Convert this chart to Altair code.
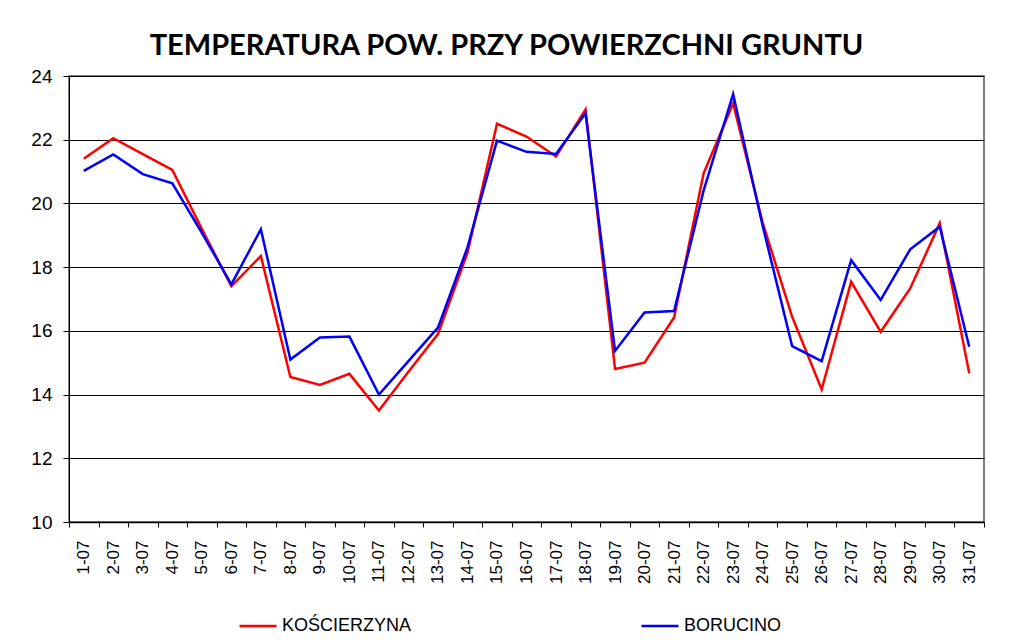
import altair as alt
import pandas as pd

days = [f"{d}-07" for d in range(1, 32)]
koscierzyna = [21.4, 22.05, 21.55, 21.05, 19.2, 17.4, 18.35, 14.55, 14.3, 14.65,
               13.5, 14.72, 15.9, 18.45, 22.5, 22.1, 21.47, 22.95, 14.8, 15.0,
               16.42, 20.94, 23.14, 19.4, 16.44, 14.16, 17.54, 15.97, 17.33, 19.38,
               14.67]
borucino = [21.02, 21.54, 20.92, 20.63, 19.08, 17.46, 19.19, 15.1, 15.79, 15.82,
            14.0, 15.05, 16.1, 18.62, 21.97, 21.62, 21.55, 22.83, 15.37, 16.58,
            16.62, 20.4, 23.43, 19.3, 15.52, 15.05, 18.22, 16.97, 18.56, 19.27,
            15.5]
series_names = ["KOŚCIERZYNA", "BORUCINO"]
series_colors = ["#FF0000", "#0000FF"]
y_ticks = [10, 12, 14, 16, 18, 20, 22, 24]

rows = []
for name, vals in zip(series_names, [koscierzyna, borucino]):
    for d, v in zip(days, vals):
        rows.append({"day": d, "temp": v, "series": name})
df = pd.DataFrame(rows)

chart = (
    alt.Chart(df)
    .mark_line(strokeWidth=2.5)
    .encode(
        x=alt.X(
            "day:N",
            sort=days,
            scale=alt.Scale(type="band", paddingInner=0, paddingOuter=0),
            axis=alt.Axis(
                title=None,
                labelAngle=-90,
                labelFontSize=17,
                labelPadding=13,
                tickBand="extent",
                tickSize=5,
                tickColor="black",
                domainColor="black",
                domainWidth=1.5,
                labelColor="black",
                grid=False,
            ),
        ),
        y=alt.Y(
            "temp:Q",
            scale=alt.Scale(domain=[10, 24], nice=False, zero=False),
            axis=alt.Axis(
                title=None,
                values=y_ticks,
                labelFontSize=19,
                labelPadding=11,
                tickSize=6,
                tickColor="black",
                domainColor="black",
                labelColor="black",
                grid=True,
                gridColor="black",
                gridWidth=1,
                gridOpacity=1,
            ),
        ),
        color=alt.Color(
            "series:N",
            scale=alt.Scale(domain=series_names, range=series_colors),
            legend=alt.Legend(
                title=None,
                orient="none",
                direction="horizontal",
                legendX=169,
                legendY=530,
                symbolType="stroke",
                symbolSize=1369,
                symbolStrokeWidth=2.5,
                labelFontSize=18,
                labelColor="black",
                labelOffset=4,
                columnPadding=224,
                labelLimit=300,
            ),
        ),
        order=alt.Order("series_order:Q"),
    )
    .transform_calculate(series_order="datum.series === 'BORUCINO' ? 1 : 0")
    .properties(
        width=915,
        height=446,
        title=alt.TitleParams(
            "TEMPERATURA POW. PRZY POWIERZCHNI GRUNTU",
            font="Lato",
            fontSize=29,
            fontWeight="bold",
            color="black",
            anchor="middle",
            offset=6,
            dx=-20,
        ),
        autosize=alt.AutoSizeParams(type="none"),
        padding={"left": 61, "top": 68, "right": 19, "bottom": 112},
    )
    .configure(font="Liberation Sans")
    .configure_view(stroke="#555555", strokeWidth=1.5)
)

chart.save("out.html", embed_options={"renderer": "svg", "actions": False})
